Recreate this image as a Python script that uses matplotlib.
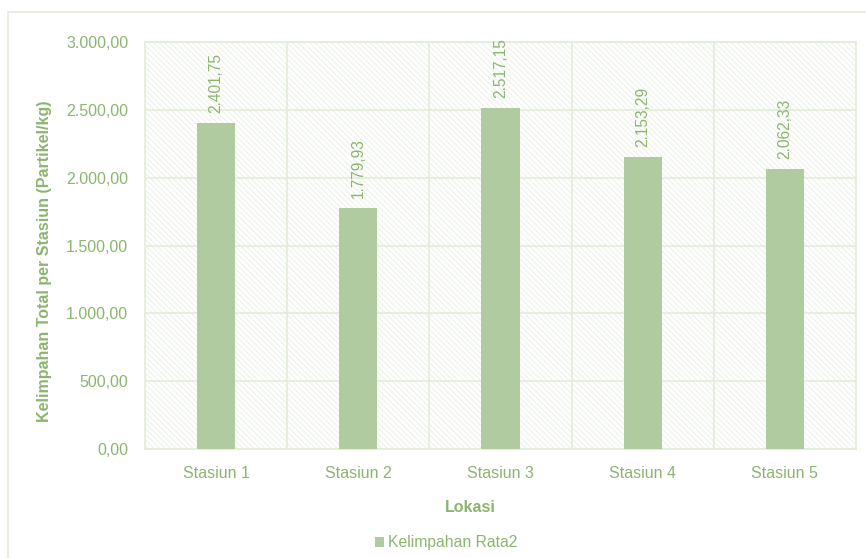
import matplotlib
matplotlib.use("Agg")
import matplotlib.pyplot as plt
from matplotlib.patches import Rectangle
from matplotlib.ticker import FixedLocator

categories = ["Stasiun 1", "Stasiun 2", "Stasiun 3", "Stasiun 4", "Stasiun 5"]
values = [2401.75, 1779.93, 2517.15, 2153.29, 2062.33]
series_name = "Kelimpahan Rata2"
y_ticks = [0, 500, 1000, 1500, 2000, 2500, 3000]

def fmt(v):
    s = f"{v:,.2f}"
    return s.replace(",", "X").replace(".", ",").replace("X", ".")

plt.rcParams['font.family'] = ['Liberation Sans', 'DejaVu Sans']
plt.rcParams['hatch.linewidth'] = 0.6
plt.rcParams['hatch.color'] = '#E8EEE3'

TXT = '#8BB56F'
BAR = '#B0CBA0'
GRID = '#E3ECDB'

fig = plt.figure(figsize=(8.66, 5.58), dpi=100)
fig.patch.set_facecolor('white')
# outer chart border
fig.add_artist(Rectangle((8/866, -0.1), 1.0, 1.1 - 12/558, transform=fig.transFigure,
                         fill=False, edgecolor=GRID, linewidth=1.2))

ax = fig.add_axes([145/866, 1 - 449/558, (856 - 145)/866, (449 - 42)/558])
ax.set_facecolor('white')
ax.add_patch(Rectangle((0, 0), 1, 1, transform=ax.transAxes, facecolor='white',
                       edgecolor='#E8EEE3', hatch='\\\\\\\\\\\\', linewidth=0, zorder=0))

x = list(range(len(categories)))
bars = ax.bar(x, values, width=0.27, color=BAR, zorder=3, label=series_name)
ax.set_xlim(-0.5, len(categories) - 0.5)
ax.set_ylim(0, 3000)
ax.yaxis.set_major_locator(FixedLocator(y_ticks))
ax.set_yticklabels([fmt(v) for v in y_ticks])
ax.set_xticks(x)
ax.set_xticklabels(categories)
for b in [i - 0.5 for i in range(1, len(categories))]:
    ax.axvline(b, color=GRID, linewidth=1.2, zorder=1)
ax.grid(axis='y', color=GRID, linewidth=1.2, zorder=1)
ax.set_axisbelow(True)
for s in ax.spines.values():
    s.set_color(GRID)
    s.set_linewidth(1.2)
ax.tick_params(axis='both', length=0, colors=TXT, labelsize=11.5)
ax.tick_params(axis='y', pad=12)
ax.tick_params(axis='x', pad=12)

for xi, v in zip(x, values):
    ax.annotate(fmt(v), (xi, v), xytext=(0, 7), textcoords='offset points',
                rotation=90, ha='center', va='bottom', color=TXT, fontsize=11.2)

fig.text(45/866, 1 - 261/558, "Kelimpahan Total per Stasiun (Partikel/kg)", color=TXT,
         fontsize=11.5, fontweight='bold', rotation=90, ha='center', va='center')
fig.text(470/866, 1 - 508/558, "Lokasi", color=TXT, fontsize=11.5, fontweight='bold',
         ha='center', va='center')

leg = fig.legend(handles=[bars], labels=[series_name], loc='center', bbox_to_anchor=(446/866, 1 - 543/558),
                 frameon=False, fontsize=11.3, handlelength=0.55, handleheight=0.55, handletextpad=0.25)
for t in leg.get_texts():
    t.set_color(TXT)

fig.savefig("out.png", dpi=100, facecolor='white')
